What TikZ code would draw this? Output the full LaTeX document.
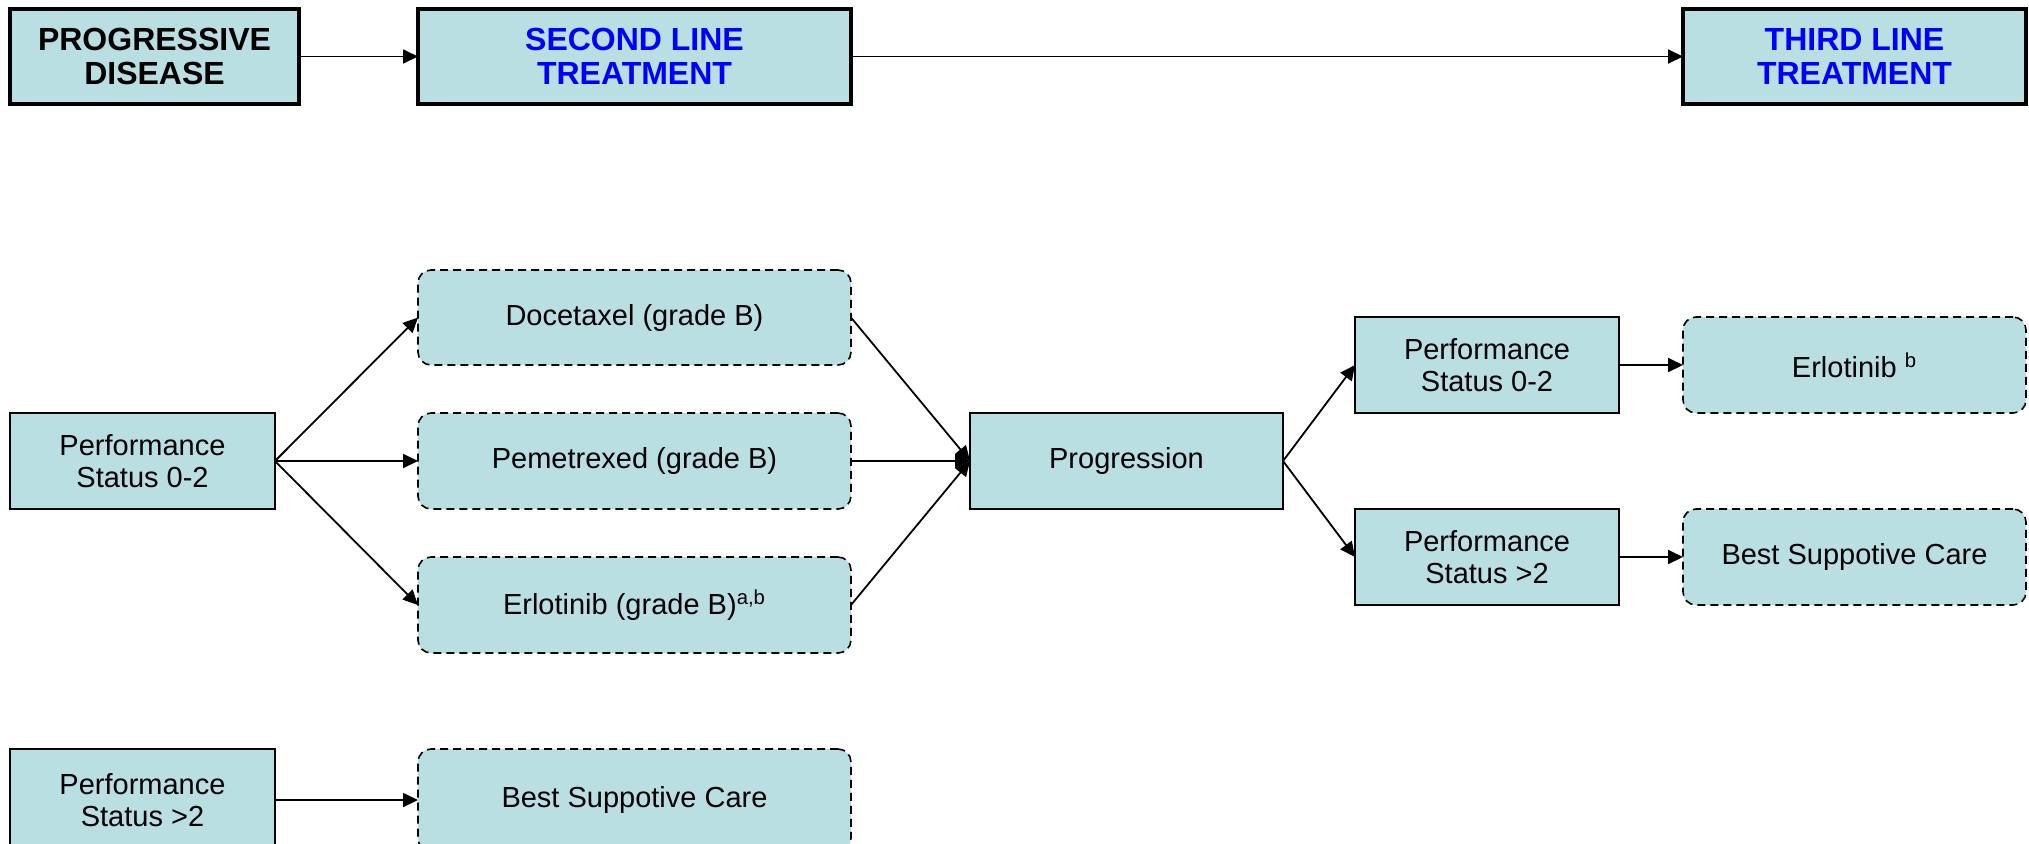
\documentclass[tikz,border=0pt]{standalone}
\usepackage{fontspec}
\setmainfont{Liberation Sans}
\usetikzlibrary{arrows.meta}
\definecolor{boxfill}{RGB}{185,223,227}
\definecolor{headblue}{RGB}{0,0,255}
\begin{document}
\begin{tikzpicture}[x=0.5pt,y=-0.5pt,
  every node/.style={inner sep=0pt,outer sep=0pt,align=center,font=\fontsize{14.5}{16}\selectfont},
  headbox/.style={draw=black,fill=boxfill,line width=2pt,minimum height=47.5pt,font=\fontsize{16}{17}\selectfont\bfseries},
  solidbox/.style={draw=black,fill=boxfill,line width=0.9pt,minimum height=48pt,minimum width=132.5pt},
  dashbox/.style={draw=black,fill=boxfill,line width=0.8pt,dash pattern=on 4pt off 2.5pt,rounded corners=6.5pt,minimum height=48pt,minimum width=216.5pt},
  conn/.style={line width=0.9pt,-{Triangle[length=7.5pt,width=7pt]}}]
\useasboundingbox (0,0) rectangle (2029,843);
% header row
\node[headbox,minimum width=144.5pt] (pd) at (154.5,56.5) {PROGRESSIVE\\DISEASE};
\node[headbox,minimum width=216.5pt,text=headblue] (slt) at (634.5,56.5) {SECOND LINE\\TREATMENT};
\node[headbox,minimum width=171.5pt,text=headblue] (tlt) at (1854.5,56.5) {THIRD LINE\\TREATMENT};
\draw[conn] (pd) -- (slt);
\draw[conn] (slt) -- (tlt);
% second line
\node[solidbox] (ps1) at (142.5,461) {Performance\\Status 0-2};
\node[dashbox,minimum height=47.5pt] (doc) at (634.5,317.5) {Docetaxel (grade B)};
\node[dashbox] (pem) at (634.5,461) {Pemetrexed (grade B)};
\node[dashbox] (erl) at (634.5,605) {Erlotinib (grade B)\textsuperscript{a,b}};
\node[solidbox,minimum width=156.5pt] (prog) at (1126.5,461) {Progression};
\draw[conn] (ps1.east) -- (doc.west);
\draw[conn] (ps1.east) -- (pem.west);
\draw[conn] (ps1.east) -- (erl.west);
\draw[conn] (doc.east) -- (prog.west);
\draw[conn] (pem.east) -- (prog.west);
\draw[conn] (erl.east) -- (prog.west);
% third line
\node[solidbox,minimum width=132pt] (psr1) at (1487,365) {Performance\\Status 0-2};
\node[solidbox,minimum width=132pt] (psr2) at (1487,557) {Performance\\Status >2};
\node[dashbox,minimum width=171.5pt] (erlb) at (1854.5,365) {Erlotinib \textsuperscript{b}};
\node[dashbox,minimum width=171.5pt] (bscr) at (1854.5,557) {Best Suppotive Care};
\draw[conn] (prog.east) -- (psr1.west);
\draw[conn] (prog.east) -- (psr2.west);
\draw[conn] (psr1) -- (erlb);
\draw[conn] (psr2) -- (bscr);
% bottom row (cut off by the page edge)
\node[solidbox,minimum height=51pt] (ps2) at (142.5,800) {Performance\\Status >2};
\node[dashbox,minimum height=51pt] (bsc) at (634.5,800) {Best Suppotive Care};
\draw[conn] (ps2) -- (bsc);
\end{tikzpicture}
\end{document}
